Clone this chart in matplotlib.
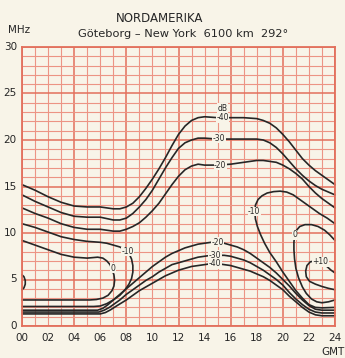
import matplotlib
matplotlib.use("Agg")
import matplotlib.pyplot as plt
from matplotlib.ticker import MultipleLocator

# field strength contours (dB) - hour GMT vs frequency MHz
up40_h = [0, 1, 2, 3, 4, 5, 6, 7, 7.5, 8, 8.5, 9, 9.5, 10, 10.5, 11, 11.5, 12, 12.5, 13, 13.5, 14,
          15, 16, 17, 18, 18.5, 19, 19.5, 20, 20.5, 21, 21.5, 22, 22.5, 23, 23.5, 24]
up40_f = [15.2, 14.6, 13.9, 13.3, 12.9, 12.8, 12.8, 12.6, 12.6, 12.8, 13.2, 13.9, 14.8, 15.8, 16.9, 18.1,
          19.4, 20.6, 21.5, 22.1, 22.4, 22.5, 22.4, 22.4, 22.4, 22.3, 22.1, 21.8, 21.3, 20.6, 19.8, 18.9,
          18.0, 17.3, 16.7, 16.2, 15.7, 15.2]

up30_h = [0, 1, 2, 3, 4, 5, 6, 7, 7.5, 8, 8.5, 9, 9.5, 10, 10.5, 11, 11.5, 12, 12.5, 13, 13.5, 14,
          15, 16, 17, 18, 18.5, 19, 19.5, 20, 20.5, 21, 21.5, 22, 22.5, 23, 23.5, 24]
up30_f = [14.1, 13.4, 12.8, 12.2, 11.8, 11.7, 11.7, 11.4, 11.4, 11.6, 12.1, 12.8, 13.6, 14.6, 15.8, 17.0,
          18.1, 19.1, 19.7, 20.0, 20.2, 20.2, 20.1, 20.1, 20.1, 20.1, 20.0, 19.7, 19.2, 18.5, 17.7, 16.9,
          16.2, 15.6, 15.1, 14.7, 14.4, 14.1]

up20_h = [0, 1, 2, 3, 4, 5, 6, 7, 7.5, 8, 8.5, 9, 9.5, 10, 10.5, 11, 11.5, 12, 12.5, 13, 13.5, 14,
          15, 16, 17, 18, 18.5, 19, 19.5, 20, 20.5, 21, 21.5, 22, 22.5, 23, 23.5, 24]
up20_f = [12.7, 12.1, 11.6, 11.0, 10.6, 10.4, 10.4, 10.2, 10.2, 10.4, 10.7, 11.1, 11.7, 12.4, 13.2, 14.2,
          15.2, 16.1, 16.8, 17.2, 17.4, 17.3, 17.3, 17.4, 17.6, 17.8, 17.8, 17.7, 17.6, 17.3, 16.9, 16.4,
          15.8, 15.0, 14.3, 13.7, 13.2, 12.7]

m10a_h = [0, 1, 2, 3, 4, 5, 6, 6.5, 7, 7.5, 7.9, 8.2, 8.4, 8.5, 8.5, 8.4, 8.2, 7.9, 7.5, 7.0, 6.5, 6.0, 5.5, 0]
m10a_f = [11.0, 10.6, 10.1, 9.6, 9.3, 9.1, 9.0, 8.9, 8.7, 8.5, 8.2, 7.8, 7.2, 6.5, 5.8, 5.1, 4.5, 3.9,
          3.3, 2.8, 2.4, 2.15, 2.1, 2.1]

z0a_h = [0, 1, 2, 3, 4, 5, 5.8, 6.2, 6.5, 6.75, 6.9, 7.05, 7.1, 7.05, 6.9, 6.6, 6.2, 5.7, 5.2, 0]
z0a_f = [9.2, 8.7, 8.2, 7.7, 7.4, 7.3, 7.4, 7.3, 7.0, 6.6, 6.1, 5.5, 4.9, 4.3, 3.8, 3.3, 3.0, 2.85, 2.8, 2.8]

lo20_h = [0, 5.8, 6.2, 6.6, 7, 7.5, 8, 8.5, 9, 9.5, 10, 10.5, 11, 11.5, 12, 12.5, 13, 13.5, 14, 14.5,
          15, 15.5, 16, 16.5, 17, 17.5, 18, 18.5, 19, 19.5, 20, 20.5, 21, 21.5, 22, 22.5, 23, 24]
lo20_f = [1.7, 1.7, 1.9, 2.3, 2.8, 3.4, 4.0, 4.6, 5.2, 5.8, 6.4, 6.9, 7.4, 7.8, 8.1, 8.4, 8.6, 8.8, 8.9,
          9.0, 9.0, 8.9, 8.7, 8.5, 8.2, 7.8, 7.3, 6.8, 6.3, 5.7, 5.0, 4.3, 3.5, 2.8, 2.2, 1.8, 1.7, 1.7]

lo30_h = [0, 5.9, 6.3, 6.7, 7, 7.5, 8, 8.5, 9, 9.5, 10, 10.5, 11, 11.5, 12, 12.5, 13, 13.5, 14, 14.5,
          15, 15.5, 16, 16.5, 17, 17.5, 18, 18.5, 19, 19.5, 20, 20.5, 21, 21.5, 22, 22.5, 23, 24]
lo30_f = [1.5, 1.5, 1.7, 2.0, 2.3, 2.8, 3.4, 3.9, 4.4, 4.9, 5.3, 5.8, 6.2, 6.6, 6.8, 7.0, 7.2, 7.4, 7.5,
          7.6, 7.6, 7.6, 7.5, 7.3, 7.1, 6.8, 6.4, 6.0, 5.5, 5.0, 4.4, 3.6, 2.9, 2.3, 1.8, 1.5, 1.4, 1.4]

lo40_h = [0, 6.0, 6.4, 6.8, 7.3, 8, 8.5, 9, 9.5, 10, 10.5, 11, 11.5, 12, 12.5, 13, 13.5, 14, 14.5,
          15, 15.5, 16, 16.5, 17, 17.5, 18, 18.5, 19, 19.5, 20, 20.5, 21, 21.5, 22, 22.5, 23, 24]
lo40_f = [1.3, 1.3, 1.45, 1.75, 2.2, 2.8, 3.3, 3.8, 4.2, 4.6, 5.0, 5.4, 5.7, 6.0, 6.2, 6.4, 6.5, 6.6,
          6.7, 6.7, 6.6, 6.5, 6.3, 6.1, 5.9, 5.6, 5.3, 4.9, 4.4, 3.9, 3.2, 2.6, 2.0, 1.5, 1.2, 1.1, 1.1]

m10b_h = [24, 23, 22.5, 22, 21.5, 21, 20.5, 20, 19.5, 19, 18.6, 18.3, 18.05, 17.9, 17.85, 17.9, 18.1,
          18.4, 18.8, 19.3, 19.8, 20.3, 20.8, 21.3, 21.8, 22.3, 22.8, 23.4, 24]
m10b_f = [2.0, 1.95, 2.0, 2.3, 3.0, 3.8, 4.8, 5.8, 6.9, 7.9, 8.9, 9.8, 10.7, 11.5, 12.3, 13.0, 13.6,
          14.0, 14.3, 14.45, 14.5, 14.4, 14.1, 13.6, 13.1, 12.6, 12.1, 11.6, 11.0]

z0b_h = [24, 23.5, 23, 22.6, 22.2, 21.8, 21.5, 21.2, 21.0, 20.9, 20.85, 20.85, 20.9, 21.05, 21.3, 21.7,
         22.2, 22.7, 23.2, 23.6, 24]
z0b_f = [2.8, 2.6, 2.5, 2.6, 2.9, 3.5, 4.2, 5.2, 6.2, 7.2, 8.2, 9.0, 9.7, 10.3, 10.7, 10.9, 10.9, 10.7,
         10.3, 9.8, 9.2]

p10_h = [24, 23.7, 23.3, 22.9, 22.5, 22.1, 21.85, 21.75, 21.8, 22.05, 22.5, 23, 23.5, 24]
p10_f = [5.7, 6.0, 6.5, 6.9, 7.0, 6.9, 6.5, 5.9, 5.3, 4.8, 4.5, 4.25, 4.05, 3.9]

p10l_h = [0, 0.15, 0.25, 0.25, 0.15, 0]
p10l_f = [5.5, 5.3, 4.9, 4.5, 4.1, 3.9]

curves = [
    (up40_h, up40_f), (up30_h, up30_f), (up20_h, up20_f),
    (m10a_h, m10a_f), (z0a_h, z0a_f),
    (lo20_h, lo20_f), (lo30_h, lo30_f), (lo40_h, lo40_f),
    (m10b_h, m10b_f), (z0b_h, z0b_f), (p10_h, p10_f), (p10l_h, p10l_f),
]

# contour labels: text, hour, MHz
lbl_text = ["dB", "-40", "-30", "-20", "-20", "-30", "-40", "-10", "0", "-10", "0", "+10"]
lbl_h = [15.4, 15.4, 15.1, 15.2, 15.0, 14.8, 14.8, 8.1, 7.0, 17.8, 20.9, 22.9]
lbl_f = [23.4, 22.4, 20.2, 17.3, 9.0, 7.6, 6.7, 8.0, 6.2, 12.3, 9.8, 6.9]

x_ticks = list(range(0, 25, 2))
x_labels = ["%02d" % t for t in x_ticks]
y_ticks = [0, 5, 10, 15, 20, 25, 30]

paper = "#f8f4e8"
ink = "#262626"

fig = plt.figure(figsize=(3.45, 3.58), dpi=100, facecolor=paper)
ax = fig.add_axes([22 / 345, 1 - 326 / 358, 313 / 345, 279 / 358])
ax.set_facecolor(paper)
ax.set_xlim(0, 24)
ax.set_ylim(0, 30)

ax.xaxis.set_major_locator(MultipleLocator(4))
ax.xaxis.set_minor_locator(MultipleLocator(1))
ax.yaxis.set_major_locator(MultipleLocator(5))
ax.yaxis.set_minor_locator(MultipleLocator(1))
ax.grid(which="minor", color="#ec9484", lw=0.8)
ax.grid(which="major", color="#e2705c", lw=1.1)
ax.set_axisbelow(True)
for s in ax.spines.values():
    s.set_color("#e2705c")
    s.set_linewidth(1.3)
ax.tick_params(which="both", length=0, labelbottom=False, labelleft=False)

for h, f in curves:
    ax.plot(h, f, color=ink, lw=1.2, solid_joinstyle="round", solid_capstyle="round", clip_on=False)

for t, h, f in zip(lbl_text, lbl_h, lbl_f):
    ax.text(h, f, t, fontsize=5.5, color=ink, ha="center", va="center",
            bbox=dict(facecolor=paper, edgecolor="none", pad=0.3))

for t, lab in zip(x_ticks, x_labels):
    ax.text(t, -1.3, lab, fontsize=7.5, color=ink, ha="center", va="center")
for t in y_ticks:
    ax.text(-0.4, t, str(t), fontsize=7.5, color=ink, ha="right", va="center")

fig.text(0.965, 1 - 352 / 358, "GMT", fontsize=7.5, color=ink, ha="center", va="center")
fig.text(8 / 345, 1 - 30 / 358, "MHz", fontsize=7.5, color=ink, ha="left", va="center")
fig.text(160 / 345, 1 - 18 / 358, "NORDAMERIKA", fontsize=8.5, color=ink, ha="center", va="center")
fig.text(183 / 345, 1 - 34 / 358, "Göteborg – New York  6100 km  292°", fontsize=8.2,
         color=ink, ha="center", va="center")

fig.savefig("out.png", dpi=100, facecolor=paper)
